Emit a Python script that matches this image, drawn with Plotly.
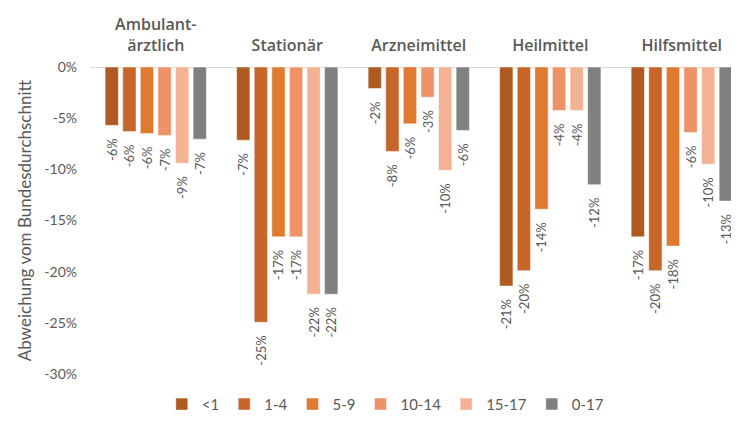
"""
Abweichung vom Bundesdurchschnitt nach Leistungsbereich und Altersgruppe
"""

import plotly.graph_objects as go

# Leistungsbereiche
categories = ["Ambulant-<br>ärztlich", "Stationär", "Arzneimittel", "Heilmittel", "Hilfsmittel"]

# Altersgruppen (Legende)
age_groups = ["<1", "1-4", "5-9", "10-14", "15-17", "0-17"]

# Abweichung in % je Altersgruppe
values_lt1 = [-5.7, -7.15, -2.1, -21.4, -16.6]
values_1_4 = [-6.3, -24.95, -8.25, -19.9, -19.9]
values_5_9 = [-6.5, -16.6, -5.55, -13.9, -17.5]
values_10_14 = [-6.7, -16.6, -2.95, -4.25, -6.4]
values_15_17 = [-9.4, -22.2, -10.1, -4.25, -9.5]
values_0_17 = [-7.05, -22.2, -6.2, -11.5, -13.1]

series = [values_lt1, values_1_4, values_5_9, values_10_14, values_15_17, values_0_17]
colors = ["#AE5A21", "#C8662A", "#E07A31", "#EE9268", "#F3B294", "#808080"]

fig = go.Figure()
x_pos = list(range(len(categories)))

for name, vals, col in zip(age_groups, series, colors):
    fig.add_trace(
        go.Bar(
            x=x_pos,
            y=vals,
            name=name,
            marker=dict(color=col, line=dict(color="rgba(255,255,255,0.6)", width=0.8)),
            # nbsp am Ende -> etwas Abstand zwischen Balkenende und Beschriftung
            text=[f"{round(v):d}%\u00a0\u00a0\u00a0" for v in vals],
            textposition="outside",
            textangle=-90,
            constraintext="none",
            textfont=dict(family="Lato, sans-serif", size=13, color="#595959"),
            cliponaxis=False,
        )
    )

# Seite hat 8px Rand (body margin) -> Figur etwas kleiner
fig.update_layout(
    width=731,
    height=413,
    barmode="group",
    bargap=0.197,
    bargroupgap=0.245,
    plot_bgcolor="white",
    paper_bgcolor="white",
    margin=dict(l=82, r=0, t=59, b=42),
    font=dict(family="Lato, sans-serif", color="#595959"),
    showlegend=True,
    legend=dict(
        orientation="h",
        x=0.455,
        xanchor="center",
        y=-0.045,
        yanchor="top",
        font=dict(size=15, color="#595959"),
        itemwidth=30,
        traceorder="normal",
    ),
)

fig.update_xaxes(
    tickvals=x_pos,
    ticktext=categories,
    side="top",
    range=[-0.5, 4.435],
    showgrid=False,
    showline=False,
    ticks="",
    ticklabelstandoff=12,
    tickfont=dict(family="Open Sans, sans-serif", size=16, color="#595959", weight=600),
)

fig.update_yaxes(
    range=[-30, 0],
    tickvals=[0, -5, -10, -15, -20, -25, -30],
    ticktext=["0%", "-5%", "-10%", "-15%", "-20%", "-25%", "-30%"],
    tickfont=dict(size=14, color="#595959"),
    showgrid=False,
    zeroline=True,
    zerolinecolor="#D9D9D9",
    zerolinewidth=1.2,
    ticks="",
    ticklabelstandoff=12,
    title=dict(text="Abweichung vom Bundesdurchschnitt", font=dict(size=17, color="#595959"), standoff=8),
)

fig.write_html("out.html")
